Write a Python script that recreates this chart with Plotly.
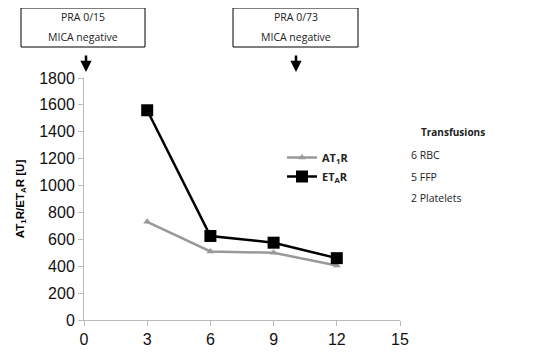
import plotly.graph_objects as go

months = [3, 6, 9, 12]
at1r = [730, 510, 500, 405]
etar = [1560, 625, 575, 460]
x_ticks = [0, 3, 6, 9, 12, 15]
y_ticks = [0, 200, 400, 600, 800, 1000, 1200, 1400, 1600, 1800]
transfusions = ["6 RBC", "5 FFP", "2 Platelets"]
boxes = [("PRA 0/15", "MICA negative"), ("PRA 0/73", "MICA negative")]

OFF = 8  # page body margin
W, H = 535 - OFF, 353 - OFF
L, T = 84 - OFF, 78 - OFF
R = W - (400 - OFF)
B = H - (320 - OFF)
pw, ph = W - L - R, H - T - B

def px(x):  # screen x -> paper
    return (x - OFF - L) / pw

def py(y):  # screen y -> paper
    return (H - B - (y - OFF)) / ph

fig = go.Figure()
fig.add_trace(go.Scatter(
    x=months, y=at1r, mode="lines+markers", name="<b>AT<sub>1</sub>R</b>",
    line=dict(color="#999999", width=2.5),
    marker=dict(symbol="triangle-up", size=7, color="#999999"),
))
fig.add_trace(go.Scatter(
    x=months, y=etar, mode="lines+markers", name="<b>ET<sub>A</sub>R</b>",
    line=dict(color="black", width=2.5),
    marker=dict(symbol="square", size=12, color="black"),
))

shapes = []
annotations = []
box_x = [(21, 145), (233, 358)]
arrow_x = [86, 296]
txt_font = dict(size=10.5, family="Open Sans", color="#222")
for (l1, l2), (x0, x1), ax in zip(boxes, box_x, arrow_x):
    shapes.append(dict(type="rect", xref="paper", yref="paper",
                       x0=px(x0), x1=px(x1), y0=py(47), y1=py(8),
                       line=dict(color="black", width=1)))
    cx = px((x0 + x1) / 2)
    annotations.append(dict(xref="paper", yref="paper", x=cx, y=py(17), text=l1,
                            xanchor="center", yanchor="middle",
                            showarrow=False, font=txt_font))
    annotations.append(dict(xref="paper", yref="paper", x=cx, y=py(37), text=l2,
                            xanchor="center", yanchor="middle",
                            showarrow=False, font=txt_font))
    annotations.append(dict(xref="paper", yref="paper", x=px(ax), y=py(72), text="",
                            showarrow=True, ax=0, ay=-18, arrowhead=2, arrowsize=0.9,
                            arrowwidth=2.5, arrowcolor="black"))

annotations.append(dict(xref="paper", yref="paper", x=px(453), y=py(132),
                        text="<b>Transfusions</b>", showarrow=False,
                        xanchor="center", yanchor="middle",
                        font=dict(size=10, family="Open Sans", color="#222")))
for t, yy in zip(transfusions, [155, 177, 198]):
    annotations.append(dict(xref="paper", yref="paper", x=px(409), y=py(yy), text=t,
                            xanchor="left", yanchor="middle", showarrow=False,
                            font=dict(size=10.5, family="Open Sans", color="#222")))

fig.update_layout(
    width=W, height=H,
    margin=dict(l=L, r=R, t=T, b=B, autoexpand=False),
    paper_bgcolor="white", plot_bgcolor="white",
    font=dict(family="Liberation Sans, Arial", color="black"),
    showlegend=True,
    legend=dict(x=px(282), y=py(143), xanchor="left", yanchor="top",
                bgcolor="rgba(0,0,0,0)", font=dict(size=11, family="Open Sans", color="#222"),
                tracegroupgap=0, itemwidth=30),
    shapes=shapes, annotations=annotations,
    xaxis=dict(range=[0, 15], tickvals=x_ticks, showgrid=False, zeroline=False,
               showline=True, linecolor="#bbbbbb", linewidth=1, automargin=False,
               ticks="outside", tickcolor="#bbbbbb", ticklen=5,
               tickfont=dict(size=16, family="Liberation Sans", color="#111")),
    yaxis=dict(range=[0, 1800], tickvals=y_ticks, showgrid=False, zeroline=False,
               showline=True, linecolor="#bbbbbb", linewidth=1, automargin=False,
               ticks="outside", tickcolor="#bbbbbb", ticklen=5,
               tickfont=dict(size=16, family="Liberation Sans", color="#111"),
               title=dict(text="<b>AT<sub>1</sub>R/ET<sub>A</sub>R [U]</b>",
                          font=dict(size=11.5, family="Liberation Sans"), standoff=12)),
)
fig.write_html("out.html")
